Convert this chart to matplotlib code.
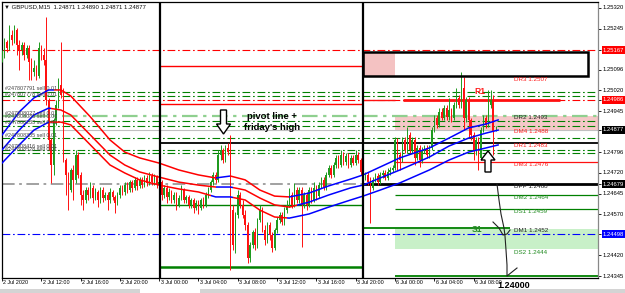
import matplotlib
matplotlib.use("Agg")
import matplotlib.pyplot as plt
import matplotlib.transforms as mtransforms
from matplotlib.patches import Rectangle, Polygon
import numpy as np

plt.rcParams['font.family'] = ['Liberation Sans', 'DejaVu Sans']

# ---------------- data ----------------
symbol_header = "GBPUSD,M15  1.24871 1.24890 1.24871 1.24877"
first_open = 1.25131
closes = [
    1.25149, 1.25196, 1.25174, 1.25222, 1.25204, 1.25240, 1.25185, 1.25167, 1.25185, 1.25149,
    1.25174, 1.25124, 1.25087, 1.25102, 1.25073, 1.25174, 1.25149, 1.25131, 1.24985, 1.24840,
    1.24749, 1.24913, 1.24967, 1.25040, 1.25004, 1.24767, 1.24713, 1.24658, 1.24731, 1.24695,
    1.24785, 1.24713, 1.24640, 1.24622, 1.24658, 1.24640, 1.24666, 1.24629, 1.24651, 1.24622,
    1.24658, 1.24629, 1.24640, 1.24622, 1.24651, 1.24633, 1.24611, 1.24640, 1.24666, 1.24651,
    1.24676, 1.24658, 1.24687, 1.24666, 1.24695, 1.24673, 1.24695, 1.24676, 1.24702, 1.24684,
    1.24709, 1.24687, 1.24705, 1.24676, 1.24687, 1.24640, 1.24666, 1.24633, 1.24651, 1.24622,
    1.24640, 1.24604, 1.24629, 1.24658, 1.24622, 1.24633, 1.24604, 1.24622, 1.24593, 1.24611,
    1.24593, 1.24622, 1.24604, 1.24640, 1.24658, 1.24687, 1.24713, 1.24695, 1.24785, 1.24804,
    1.24767, 1.24811, 1.24796, 1.24585, 1.24458, 1.24567, 1.24640, 1.24604, 1.24567, 1.24531,
    1.24411, 1.24458, 1.24505, 1.24458, 1.24549, 1.24585, 1.24513, 1.24476, 1.24531, 1.24494,
    1.24447, 1.24513, 1.24549, 1.24567, 1.24542, 1.24585, 1.24604, 1.24640, 1.24604, 1.24658,
    1.24622, 1.24658, 1.24604, 1.24640, 1.24604, 1.24658, 1.24622, 1.24666, 1.24636, 1.24676,
    1.24695, 1.24669, 1.24713, 1.24738, 1.24713, 1.24749, 1.24775, 1.24749, 1.24785, 1.24760,
    1.24782, 1.24749, 1.24775, 1.24756, 1.24785, 1.24767, 1.24724, 1.24702, 1.24713, 1.24687,
    1.24666, 1.24695, 1.24709, 1.24687, 1.24713, 1.24720, 1.24702, 1.24724, 1.24731, 1.24738,
    1.24840, 1.24785, 1.24767, 1.24840, 1.24804, 1.24858, 1.24804, 1.24840, 1.24775, 1.24811,
    1.24767, 1.24804, 1.24811, 1.24785, 1.24811, 1.24876, 1.24920, 1.24895, 1.24942, 1.24920,
    1.24956, 1.24924, 1.24949, 1.24920, 1.24967, 1.24993, 1.24967, 1.25029, 1.24920, 1.24985,
    1.24913, 1.24858, 1.24804, 1.24840, 1.24775, 1.24876, 1.24920, 1.24895, 1.24967, 1.24985,
    1.24871, 1.24877]
highs = [
    1.25167, 1.25211, 1.25204, 1.25258, 1.25240, 1.25258, 1.25247, 1.25204, 1.25196, 1.25196,
    1.25185, 1.25185, 1.25138, 1.25131, 1.25113, 1.25196, 1.25185, 1.25174, 1.25287, 1.24993,
    1.24847, 1.24920, 1.24985, 1.25066, 1.25196, 1.25029, 1.24775, 1.24724, 1.24738, 1.24749,
    1.24804, 1.24796, 1.24724, 1.24658, 1.24669, 1.24669, 1.24687, 1.24676, 1.24666, 1.24658,
    1.24669, 1.24669, 1.24651, 1.24651, 1.24666, 1.24658, 1.24640, 1.24651, 1.24676, 1.24676,
    1.24687, 1.24687, 1.24695, 1.24695, 1.24705, 1.24705, 1.24705, 1.24705, 1.24713, 1.24713,
    1.24724, 1.24720, 1.24716, 1.24713, 1.24702, 1.24695, 1.24676, 1.24676, 1.24666, 1.24658,
    1.24651, 1.24651, 1.24640, 1.24676, 1.24666, 1.24640, 1.24640, 1.24629, 1.24629, 1.24622,
    1.24622, 1.24629, 1.24633, 1.24651, 1.24669, 1.24695, 1.24724, 1.24724, 1.24804, 1.24822,
    1.24811, 1.24822, 1.24829, 1.24858, 1.24604, 1.24578, 1.24658, 1.24651, 1.24622, 1.24585,
    1.24542, 1.24469, 1.24513, 1.24520, 1.24556, 1.24604, 1.24596, 1.24531, 1.24542, 1.24542,
    1.24505, 1.24520, 1.24560, 1.24578, 1.24578, 1.24596, 1.24622, 1.24666, 1.24651, 1.24684,
    1.24669, 1.24669, 1.24669, 1.24651, 1.24651, 1.24669, 1.24669, 1.24687, 1.24676, 1.24687,
    1.24705, 1.24705, 1.24724, 1.24749, 1.24749, 1.24760, 1.24785, 1.24785, 1.24804, 1.24796,
    1.24793, 1.24793, 1.24785, 1.24785, 1.24804, 1.24796, 1.24775, 1.24731, 1.24724, 1.24724,
    1.24705, 1.24705, 1.24720, 1.24720, 1.24724, 1.24731, 1.24731, 1.24738, 1.24742, 1.24749,
    1.24851, 1.24847, 1.24796, 1.24851, 1.24851, 1.24887, 1.24869, 1.24851, 1.24851, 1.24822,
    1.24822, 1.24815, 1.24822, 1.24822, 1.24822, 1.24887, 1.24931, 1.24931, 1.24956, 1.24956,
    1.24967, 1.24967, 1.24993, 1.24956, 1.24978, 1.25029, 1.25004, 1.25087, 1.25069, 1.24996,
    1.24996, 1.24920, 1.24869, 1.24851, 1.24851, 1.24887, 1.24931, 1.24931, 1.25022, 1.25022,
    1.25004, 1.24890]
lows = [
    1.25124, 1.25138, 1.25160, 1.25167, 1.25185, 1.25193, 1.25149, 1.25095, 1.25149, 1.25131,
    1.25138, 1.25058, 1.25058, 1.25073, 1.25058, 1.25066, 1.25131, 1.25113, 1.24967, 1.24804,
    1.24684, 1.24713, 1.24895, 1.24956, 1.24993, 1.24760, 1.24640, 1.24585, 1.24651, 1.24622,
    1.24684, 1.24702, 1.24604, 1.24585, 1.24611, 1.24622, 1.24629, 1.24611, 1.24622, 1.24596,
    1.24611, 1.24614, 1.24622, 1.24585, 1.24611, 1.24622, 1.24575, 1.24604, 1.24629, 1.24640,
    1.24640, 1.24647, 1.24651, 1.24651, 1.24658, 1.24658, 1.24666, 1.24666, 1.24669, 1.24673,
    1.24676, 1.24676, 1.24676, 1.24666, 1.24666, 1.24622, 1.24629, 1.24611, 1.24622, 1.24611,
    1.24611, 1.24585, 1.24596, 1.24622, 1.24611, 1.24611, 1.24593, 1.24593, 1.24575, 1.24585,
    1.24571, 1.24585, 1.24593, 1.24596, 1.24629, 1.24651, 1.24676, 1.24684, 1.24687, 1.24767,
    1.24756, 1.24760, 1.24785, 1.24367, 1.24440, 1.24429, 1.24556, 1.24593, 1.24556, 1.24513,
    1.24393, 1.24396, 1.24447, 1.24440, 1.24447, 1.24542, 1.24505, 1.24458, 1.24465, 1.24476,
    1.24433, 1.24440, 1.24502, 1.24538, 1.24531, 1.24531, 1.24575, 1.24596, 1.24593, 1.24596,
    1.24611, 1.24611, 1.24451, 1.24593, 1.24585, 1.24596, 1.24611, 1.24614, 1.24622, 1.24629,
    1.24666, 1.24658, 1.24658, 1.24705, 1.24702, 1.24705, 1.24738, 1.24738, 1.24742, 1.24749,
    1.24749, 1.24738, 1.24742, 1.24749, 1.24749, 1.24756, 1.24713, 1.24687, 1.24695, 1.24676,
    1.24538, 1.24658, 1.24687, 1.24676, 1.24680, 1.24702, 1.24695, 1.24695, 1.24713, 1.24724,
    1.24731, 1.24731, 1.24731, 1.24760, 1.24793, 1.24793, 1.24793, 1.24793, 1.24749, 1.24767,
    1.24742, 1.24756, 1.24793, 1.24775, 1.24775, 1.24804, 1.24869, 1.24884, 1.24887, 1.24913,
    1.24913, 1.24913, 1.24913, 1.24905, 1.24913, 1.24956, 1.24956, 1.24956, 1.24876, 1.24905,
    1.24847, 1.24840, 1.24767, 1.24785, 1.24731, 1.24767, 1.24869, 1.24884, 1.24887, 1.24956,
    1.24785, 1.24871]

# moving-average lines (read at these bar positions)
ma_bars = [0, 7, 13, 19, 24, 28, 36, 44, 50, 56, 64, 72, 80, 87, 93, 99, 105, 111, 117, 125,
           133, 142, 147, 154, 162, 174, 182, 190, 197, 202]
ma_top = [1.24858, 1.24942, 1.24993, 1.25022, 1.25022, 1.25000, 1.24924, 1.24840, 1.24796, 1.24775,
          1.24756, 1.24731, 1.24713, 1.24702, 1.24709, 1.24695, 1.24658, 1.24636, 1.24633, 1.24647,
          1.24673, 1.24698, 1.24713, 1.24742, 1.24775, 1.24811, 1.24847, 1.24884, 1.24898, 1.24913]
ma_mid = [1.24804, 1.24876, 1.24931, 1.24956, 1.24949, 1.24931, 1.24858, 1.24785, 1.24749, 1.24724,
          1.24705, 1.24687, 1.24676, 1.24669, 1.24669, 1.24658, 1.24629, 1.24604, 1.24596, 1.24614,
          1.24640, 1.24666, 1.24676, 1.24702, 1.24731, 1.24778, 1.24818, 1.24847, 1.24865, 1.24876]
ma_low = [1.24756, 1.24822, 1.24876, 1.24905, 1.24905, 1.24895, 1.24822, 1.24749, 1.24720, 1.24695,
          1.24676, 1.24662, 1.24651, 1.24633, 1.24633, 1.24622, 1.24585, 1.24560, 1.24556, 1.24571,
          1.24596, 1.24622, 1.24636, 1.24658, 1.24684, 1.24731, 1.24767, 1.24796, 1.24811, 1.24822]
ma_blue_top = [(0, 21), (87, 93), (117, 203)]
ma_blue_mid = [(0, 20), (87, 94), (120, 203)]
ma_blue_low = [(0, 19), (85, 94), (116, 203)]

# horizontal levels across the whole chart
full_levels = [1.25167, 1.25015, 1.25000, 1.24986, 1.24928, 1.24909, 1.24891, 1.24847, 1.24804, 1.24793, 1.24498]
full_level_colors = ['#ff0000', '#008000', '#008000', '#ff0000', '#8fd08f', '#008000', '#008000',
                     '#008000', '#008000', '#008000', '#0000ff']
current_price = 1.24877
prev_pivot = 1.24679

# Friday (3 Jul) daily levels
fri_levels = [1.25109, 1.24971, 1.24829, 1.24604, 1.24378]
fri_colors = ['#ff0000', '#ff0000', '#000000', '#008000', '#008000']

# Monday (6 Jul) pivot levels
pivot_names = ["DR3", "DR2", "DM4", "DR1", "DM3", "DPP", "DM2", "DS1", "DM1", "DS2"]
pivot_values = [1.2507, 1.2493, 1.2488, 1.2483, 1.2476, 1.2468, 1.2464, 1.2459, 1.2452, 1.2444]
pivot_colors = ['#ff1a1a', '#222222', '#ff1a1a', '#ff1a1a', '#ff1a1a', '#222222', '#1f8a1f', '#1f8a1f',
                '#222222', '#1f8a1f']
r1_level = 1.24986
zone_r = (1.24876, 1.24928)
zone_s = (1.24443, 1.24516)
box_levels = (1.25073, 1.25161)
bottom_level = 1.24345
target_text = "1.24000"

trade_labels = ["#247807791 sell 0.01", "#247807778 sell 0.01", "#247808027 sell 0.01",
                "#247808083 sell 0.01", "#247808233 sell 0.01", "#247808335 sell 0.01",
                "#247808416 sell 0.01", "#247808528 sell 0.01"]
trade_prices = [1.25026, 1.25004, 1.24938, 1.24924, 1.24902, 1.24858, 1.24815, 1.24804]

price_ticks = [1.25320, 1.25245, 1.25096, 1.25020, 1.24945, 1.24796, 1.24720, 1.24645, 1.24570,
               1.24420, 1.24345]
marked_prices = [1.25167, 1.24986, 1.24877, 1.24679, 1.24498]
marked_colors = ['#ff0000', '#ff0000', '#000000', '#000000', '#0000ff']

time_labels = ["2 Jul 2020", "2 Jul 12:00", "2 Jul 16:00", "2 Jul 20:00", "3 Jul 00:00", "3 Jul 04:00",
               "3 Jul 08:00", "3 Jul 12:00", "3 Jul 16:00", "3 Jul 20:00", "6 Jul 00:00", "6 Jul 04:00",
               "6 Jul 08:00"]
time_label_bars = [0, 16, 32, 48, 64, 80, 96, 112, 128, 144, 160, 176, 192]

# ---------------- figure ----------------
W, H = 625, 293
fig = plt.figure(figsize=(W / 100, H / 100), dpi=100)
L, R, T, B = 2, 598, 2, 278
PXB = 2.456          # pixels per bar
PPP = 27500.0        # pixels per price unit
P0 = 1.2534909       # price at pixel row 0
ax = fig.add_axes([L / W, 1 - B / H, (R - L) / W, (B - T) / H])
ax.set_xlim(0, (R - L) / PXB)
ax.set_ylim(P0 - B / PPP, P0 - T / PPP)


def bx(px):
    return (px - L) / PXB


def py(y):
    return P0 - y / PPP


XMAX = (R - L) / PXB
GREEN = '#1f9a1f'
RED = '#ff1010'
DD = (0, (7, 2.5, 1.5, 2.5))
sec2_start, sec3_start, mon_start = 64.3, 147.0, 160.0

# zones
ax.add_patch(Rectangle((mon_start, zone_r[0]), XMAX - mon_start, zone_r[1] - zone_r[0],
                       fc='#f5c8c8', ec='none', zorder=0.5))
ax.add_patch(Rectangle((mon_start, zone_s[0]), XMAX - mon_start, zone_s[1] - zone_s[0],
                       fc='#c8f0c8', ec='none', zorder=0.5))
ax.add_patch(Rectangle((sec3_start, box_levels[0]), mon_start - sec3_start, box_levels[1] - box_levels[0],
                       fc='#f4c2c2', ec='none', zorder=0.5))

# full-width dash-dot levels
for lv, col in zip(full_levels, full_level_colors):
    lw = 1.6 if col == '#8fd08f' else 0.8
    ax.axhline(lv, color=col, lw=lw, ls=DD, zorder=1)
ax.axhline(current_price, color='#c0c0c0', lw=0.8, zorder=1)
ax.hlines(prev_pivot, 0, sec3_start, color='#9a9a9a', lw=1.3, ls=DD, zorder=1)
ax.hlines(prev_pivot, sec3_start, XMAX, color='#000000', lw=2.0, zorder=1.2)

# Friday levels
for lv, col in zip(fri_levels, fri_colors):
    lw = 1.8 if lv == fri_levels[-1] else (1.3 if col == '#000000' else 1.0)
    ax.hlines(lv, sec2_start, sec3_start, color=col, lw=lw, zorder=1.1)
ax.hlines(fri_levels[2], sec3_start, XMAX, color='#000000', lw=1.3, zorder=1.1)

# Monday levels
ax.hlines(r1_level, sec3_start, mon_start, color=RED, lw=1.0, zorder=1.1)
ax.hlines(r1_level, bx(403), bx(560), color=RED, lw=2.0, zorder=1.1)
ax.hlines(pivot_values[4], mon_start, XMAX, color=RED, lw=0.9, zorder=1.1)
ax.hlines(pivot_values[6], mon_start, XMAX, color='#008000', lw=0.9, zorder=1.1)
ax.hlines(pivot_values[7], mon_start, XMAX, color='#008000', lw=0.9, zorder=1.1)
ax.hlines(pivot_values[8], sec3_start, bx(510), color='#008000', lw=1.3, zorder=1.1)
ax.hlines(bottom_level, mon_start, XMAX, color='#008000', lw=1.3, zorder=1.1)

# black box
ax.add_patch(Rectangle((sec3_start, box_levels[0]), bx(588) - sec3_start, box_levels[1] - box_levels[0],
                       fill=False, ec='black', lw=1.8, zorder=4))

# vertical separators
for vx in (sec2_start, sec3_start):
    ax.axvline(vx, color='black', lw=1.6, zorder=4)

# candles
c = np.array(closes)
o = np.r_[first_open, c[:-1]]
o[-1] = 1.24871
hi = np.maximum(np.array(highs), np.maximum(o, c))
lo = np.minimum(np.array(lows), np.minimum(o, c))
idx = np.arange(len(c))
cols = np.where(c >= o, GREEN, RED)
ax.vlines(idx, lo, hi, colors=cols, lw=0.7, zorder=3)
ax.bar(idx, np.maximum(np.abs(c - o), 0.000015), bottom=np.minimum(o, c), width=0.6,
       color=cols, lw=0, zorder=3)

# moving averages, blue where price above, red below
def draw_ma(vals, blue_ranges):
    red_set = []
    prev = 0
    for a, b in blue_ranges:
        if a > prev:
            red_set.append((prev, a))
        prev = b
    if prev < 205:
        red_set.append((prev, 205))
    for rngs, col in ((blue_ranges, '#0000ff'), (red_set, '#ff0000')):
        for a, b in rngs:
            ln, = ax.plot(ma_bars, vals, color=col, lw=1.1, zorder=3.5)
            clip = Rectangle((a, 1.2), b - a, 0.1, transform=ax.transData)
            ln.set_clip_path(clip)


draw_ma(ma_top, ma_blue_top)
draw_ma(ma_mid, ma_blue_mid)
draw_ma(ma_low, ma_blue_low)

# arrows (hollow)
def hollow(points):
    pts = [(bx(px_), py(y_)) for px_, y_ in points]
    ax.add_patch(Polygon(pts, closed=True, fc='white', ec='black', lw=1.0, zorder=5))


cx = 223.5
hollow([(cx - 3, 110), (cx + 3, 110), (cx + 3, 124), (cx + 7, 124), (cx, 134), (cx - 7, 124), (cx - 3, 124)])
cx = 488
hollow([(cx, 151), (cx + 7, 160), (cx + 3, 160), (cx + 3, 172), (cx - 3, 172), (cx - 3, 160), (cx - 7, 160)])

# hand drawn path
path1 = [(497, 184), (499, 200), (501, 214), (504, 228), (505, 236), (506, 250), (507, 265), (507, 276), (517, 268)]
ax.plot([bx(p) for p, _ in path1], [py(q) for _, q in path1], color='#222222', lw=0.8, zorder=5)
path2 = [(493, 222), (499, 228), (503, 235), (507, 234), (510, 230)]
ax.plot([bx(p) for p, _ in path2], [py(q) for _, q in path2], color='#222222', lw=0.8, zorder=5)

# texts
ax.text(bx(247), py(116), "pivot line +", fontsize=6.8, fontweight='bold', va='center', ha='left', zorder=6)
ax.text(bx(244), py(127), "friday's high", fontsize=6.8, fontweight='bold', va='center', ha='left', zorder=6)
ax.text(bx(474), py(91), "R1", fontsize=6.2, fontweight='bold', color='#ff2020', va='center', zorder=6)
ax.text(bx(472), py(229), "S1", fontsize=6.2, fontweight='bold', color='#2a8a2a', va='center', zorder=6)
for name, val, col in zip(pivot_names, pivot_values, pivot_colors):
    ax.text(bx(514), val, f"{name} {val:.4f}", fontsize=4.5, color=col, va='top', ha='left', zorder=6)
for lab, pr in zip(trade_labels, trade_prices):
    ax.text(bx(5), pr, lab, fontsize=3.9, color='#444444', va='center', ha='left', zorder=6)
ax.text(bx(4), py(7), "\u25bc " + symbol_header, fontsize=4.3, color='#111111', va='center', ha='left',
        zorder=6)

# axes styling
for s in ('left', 'top', 'bottom'):
    ax.spines[s].set_color('black')
    ax.spines[s].set_linewidth(0.9)
ax.spines['right'].set_color('#888888')
ax.spines['right'].set_linewidth(0.9)
ax.yaxis.tick_right()
ax.set_yticks(price_ticks + marked_prices)
ax.tick_params(axis='y', length=2.0, width=0.6, labelright=False, labelleft=False, color='black')
ax.set_xticks(time_label_bars)
ax.tick_params(axis='x', length=2.2, width=0.6, labelbottom=False, color='black')

ytr = mtransforms.blended_transform_factory(ax.transAxes, ax.transData)
xlab = (603 - L) / (R - L)
for p in price_ticks:
    ax.text(xlab, p, f"{p:.5f}", transform=ytr, fontsize=4.2, color='black', va='center', ha='left',
            clip_on=False)
for p, col in zip(marked_prices, marked_colors):
    ax.text(xlab, p, f"{p:.5f}", transform=ytr, fontsize=4.2, color='white', va='center', ha='left',
            clip_on=False, bbox=dict(boxstyle='square,pad=0.25', fc=col, ec='none'))

xtr = mtransforms.blended_transform_factory(ax.transData, ax.transAxes)
ylab = -(283 - B) / (B - T)
for bpos, lab in zip(time_label_bars, time_labels):
    ax.text(bpos + 0.6, ylab, lab, transform=xtr, fontsize=3.9, color='black', va='center', ha='left',
            clip_on=False)

fig.text(497 / W, 1 - 285 / H, target_text, fontsize=6.5, fontweight='bold', color='black',
         va='center', ha='left')

# bottom strip
fig.patches.append(Rectangle((0, 0), 1, 4 / H, transform=fig.transFigure, fc='#d4d4d4', ec='none'))
fig.patches.append(Rectangle((140 / W, 0), 60 / W, 4 / H, transform=fig.transFigure, fc='white', ec='none'))

fig.savefig("out.png", dpi=100)
